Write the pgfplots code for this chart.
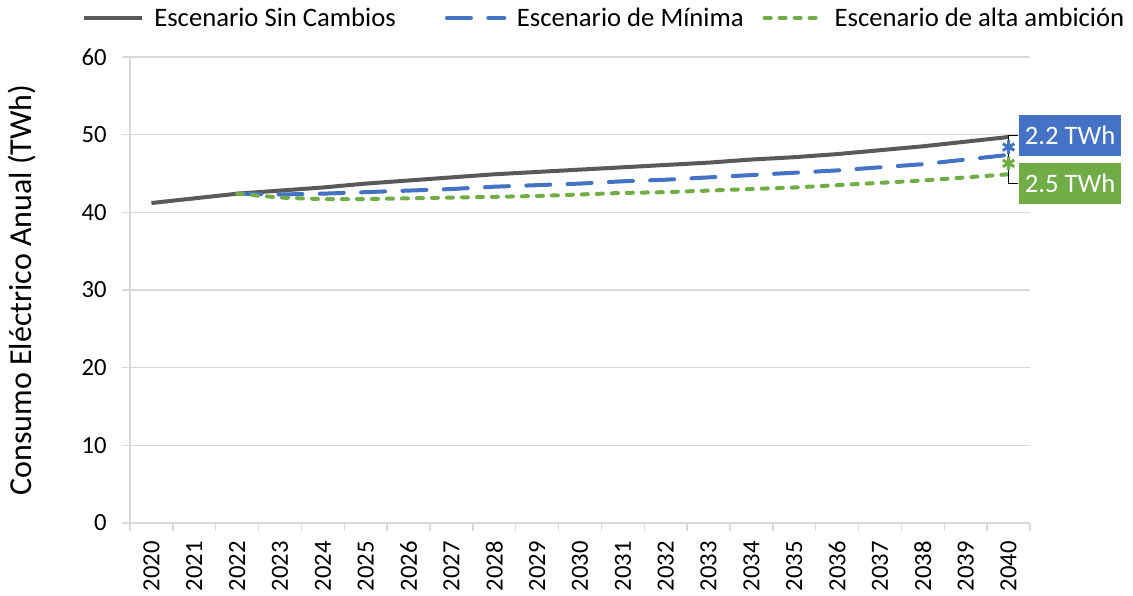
\documentclass[border=0pt]{standalone}
\usepackage{fontspec}
\setmainfont{Carlito}
\usepackage{pgfplots}
\pgfplotsset{compat=1.18}
\definecolor{cgray}{HTML}{595959}
\definecolor{cblue}{HTML}{4472C4}
\definecolor{cgreen}{HTML}{70AD47}
\definecolor{cgrid}{HTML}{D9D9D9}
\begin{document}
\begin{tikzpicture}[font=\fontsize{20}{24}\selectfont]
\useasboundingbox (-97.5pt,-54.75pt) rectangle (752.25pt,392.25pt);
\begin{axis}[
  scale only axis, width=675pt, height=349.5pt,
  xmin=2019.5, xmax=2040.5, ymin=0, ymax=60,
  clip=false,
  axis x line=bottom, axis y line=left,
  axis line style={-, draw=cgrid, line width=1pt},
  tick align=outside, major tick length=6pt,
  tick style={draw=cgrid, line width=1pt},
  ytick={0,10,...,60},
  ymajorgrids, grid style={cgrid, line width=1pt},
  yticklabel style={/pgf/number format/assume math mode=true, xshift=-8pt, font=\fontsize{18.5}{22}\selectfont},
  xtick={2019.5,2020.5,...,2040.5}, xticklabels={},
  xticklabel shift=10pt,
  extra x ticks={2020,2021,...,2040},
  extra x tick labels={2020,2021,2022,2023,2024,2025,2026,2027,2028,2029,2030,2031,2032,2033,2034,2035,2036,2037,2038,2039,2040},
  extra x tick style={major tick length=0pt, tick label style={rotate=90, anchor=east, font=\fontsize{18.5}{22}\selectfont}},
  every axis y label/.style={at={(axis description cs:-0.12,0.5)}, rotate=90, anchor=center, font=\fontsize{24}{28}\selectfont},
  ylabel={Consumo Eléctrico Anual (TWh)},
  legend style={at={(axis description cs:-0.0533,1.084)}, anchor=west, draw=none, fill=none, inner sep=0pt,
    /tikz/every even column/.append style={column sep=15pt},
    /tikz/every odd column/.append style={column sep=6pt}},
  legend columns=3,
  legend image code/.code={\draw[#1] (0pt,0pt) -- (43pt,0pt);},
]
\addplot[cgray, line width=3pt] coordinates {
(2020,41.2)(2021,41.8)(2022,42.4)(2023,42.8)(2024,43.2)(2025,43.7)(2026,44.1)(2027,44.5)(2028,44.9)(2029,45.2)(2030,45.5)(2031,45.8)(2032,46.1)(2033,46.4)(2034,46.8)(2035,47.1)(2036,47.5)(2037,48.0)(2038,48.5)(2039,49.1)(2040,49.7)};
\addlegendentry{\makebox[201pt][l]{Escenario Sin Cambios}}
\addplot[cblue, line width=3pt, line cap=round, dash pattern=on 18pt off 13pt] coordinates {
(2022,42.4)(2023,42.3)(2024,42.4)(2025,42.6)(2026,42.8)(2027,43.0)(2028,43.3)(2029,43.5)(2030,43.7)(2031,44.0)(2032,44.2)(2033,44.5)(2034,44.8)(2035,45.1)(2036,45.4)(2037,45.8)(2038,46.2)(2039,46.8)(2040,47.4)};
\addlegendentry{\makebox[167.25pt][l]{Escenario de Mínima}}
\addplot[cgreen, line width=3pt, line cap=round, dash pattern=on 4.5pt off 6.75pt] coordinates {
(2022,42.4)(2023,41.9)(2024,41.7)(2025,41.7)(2026,41.8)(2027,41.9)(2028,42.0)(2029,42.1)(2030,42.3)(2031,42.5)(2032,42.6)(2033,42.8)(2034,43.0)(2035,43.2)(2036,43.5)(2037,43.8)(2038,44.1)(2039,44.5)(2040,44.9)};
\addlegendentry{Escenario de alta ambición}
\addplot[cblue, only marks, mark=asterisk, mark size=5pt, line width=2.25pt, forget plot] coordinates {(2040,48.4)};
\addplot[cgreen, only marks, mark=asterisk, mark size=5pt, line width=2.25pt, forget plot] coordinates {(2040,46.3)};
\draw[black, line width=0.75pt] (axis cs:2040.23,49.9) -- (axis cs:2040,49.9) -- (axis cs:2040,43.7) -- (axis cs:2040.23,43.7);
\node[fill=cblue, text=white, minimum width=77pt, minimum height=31pt, anchor=west, inner sep=0pt] at (axis cs:2040.23,49.9) {2.2 TWh};
\node[fill=cgreen, text=white, minimum width=77pt, minimum height=31pt, anchor=west, inner sep=0pt] at (axis cs:2040.23,43.7) {2.5 TWh};
\end{axis}
\end{tikzpicture}
\end{document}
